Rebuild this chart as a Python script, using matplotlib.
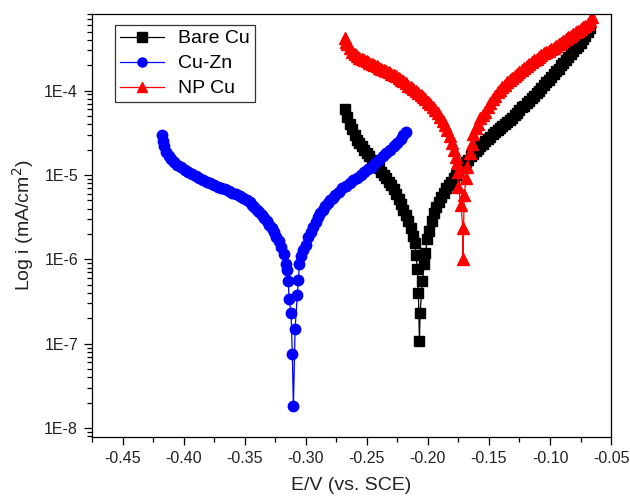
import numpy as np
import matplotlib.pyplot as plt
from matplotlib.ticker import MultipleLocator, LogLocator, FuncFormatter, NullFormatter

plt.rcParams['font.family'] = ['Liberation Sans', 'DejaVu Sans']

# Bare Cu
bare_E = [-0.268, -0.266, -0.264, -0.262, -0.260, -0.258, -0.256, -0.254, -0.252, -0.250,
          -0.248, -0.246, -0.244, -0.242, -0.240, -0.238, -0.236, -0.234, -0.232, -0.230,
          -0.228, -0.226, -0.224, -0.222, -0.220, -0.218, -0.216, -0.214, -0.212, -0.2105,
          -0.2096, -0.2086, -0.2078, -0.2069, -0.2064, -0.2045, -0.2028, -0.2020, -0.2005, -0.199,
          -0.197, -0.195, -0.193, -0.191, -0.189, -0.187, -0.185, -0.183, -0.181, -0.179,
          -0.177, -0.175, -0.173, -0.171, -0.169, -0.167, -0.165, -0.163, -0.161, -0.159,
          -0.157, -0.155, -0.153, -0.151, -0.149, -0.147, -0.145, -0.143, -0.141, -0.139,
          -0.137, -0.135, -0.133, -0.131, -0.129, -0.127, -0.125, -0.123, -0.121, -0.119,
          -0.117, -0.115, -0.113, -0.111, -0.109, -0.107, -0.105, -0.103, -0.101, -0.099,
          -0.097, -0.095, -0.093, -0.091, -0.089, -0.087, -0.085, -0.083, -0.081, -0.079,
          -0.077, -0.075, -0.073, -0.071, -0.069, -0.067]
bare_logi = [-4.22, -4.31, -4.39, -4.46, -4.53, -4.58, -4.62, -4.66, -4.70, -4.74,
             -4.78, -4.82, -4.85, -4.89, -4.92, -4.96, -5.00, -5.04, -5.08, -5.12,
             -5.17, -5.22, -5.28, -5.34, -5.41, -5.48, -5.55, -5.63, -5.72, -5.81,
             -5.95, -6.12, -6.40, -6.97, -6.64, -6.26, -6.05, -5.93, -5.76, -5.66,
             -5.54, -5.45, -5.38, -5.32, -5.26, -5.21, -5.16, -5.12, -5.08, -5.04,
             -5.00, -4.96, -4.92, -4.89, -4.85, -4.82, -4.78, -4.75, -4.72, -4.69,
             -4.66, -4.63, -4.60, -4.57, -4.545, -4.52, -4.49, -4.47, -4.44, -4.42,
             -4.40, -4.37, -4.35, -4.32, -4.29, -4.26, -4.23, -4.20, -4.18, -4.15,
             -4.12, -4.09, -4.06, -4.03, -4.00, -3.97, -3.93, -3.90, -3.87, -3.84,
             -3.80, -3.77, -3.74, -3.70, -3.67, -3.64, -3.60, -3.57, -3.53, -3.50,
             -3.47, -3.43, -3.39, -3.35, -3.31, -3.26]

# Cu-Zn
cuzn_E = [-0.418, -0.417, -0.416, -0.414, -0.412, -0.410, -0.408, -0.405, -0.402, -0.399,
          -0.396, -0.393, -0.390, -0.387, -0.384, -0.381, -0.378, -0.375, -0.372, -0.369,
          -0.366, -0.363, -0.360, -0.357, -0.354, -0.351, -0.348, -0.346, -0.344, -0.342,
          -0.340, -0.338, -0.336, -0.334, -0.332, -0.330, -0.328, -0.326, -0.324, -0.322,
          -0.320, -0.318, -0.3164, -0.3155, -0.3142, -0.3137, -0.3120, -0.3110, -0.3101, -0.3087,
          -0.3069, -0.3060, -0.3052, -0.3040, -0.3019, -0.300, -0.298, -0.296, -0.294, -0.292,
          -0.290, -0.288, -0.286, -0.284, -0.282, -0.280, -0.278, -0.276, -0.273, -0.270,
          -0.267, -0.264, -0.261, -0.258, -0.255, -0.252, -0.249, -0.246, -0.243, -0.240,
          -0.237, -0.234, -0.231, -0.228, -0.225, -0.222, -0.220, -0.218]
cuzn_logi = [-4.53, -4.60, -4.66, -4.73, -4.77, -4.81, -4.845, -4.88, -4.91, -4.94,
             -4.97, -4.99, -5.01, -5.04, -5.06, -5.08, -5.10, -5.12, -5.14, -5.15,
             -5.17, -5.19, -5.21, -5.23, -5.25, -5.27, -5.30, -5.32, -5.35, -5.38,
             -5.41, -5.44, -5.48, -5.51, -5.55, -5.59, -5.63, -5.68, -5.73, -5.78,
             -5.85, -5.94, -6.05, -6.13, -6.26, -6.47, -6.63, -7.12, -7.74, -6.82,
             -6.42, -6.24, -6.05, -5.96, -5.89, -5.83, -5.74, -5.68, -5.62, -5.56,
             -5.50, -5.45, -5.41, -5.37, -5.33, -5.30, -5.27, -5.24, -5.20, -5.16,
             -5.13, -5.09, -5.06, -5.03, -5.00, -4.96, -4.93, -4.90, -4.86, -4.82,
             -4.78, -4.74, -4.70, -4.66, -4.62, -4.57, -4.53, -4.49]

# NP Cu
npcu_E = [-0.268, -0.267, -0.266, -0.264, -0.262, -0.260, -0.258, -0.256, -0.254, -0.252,
          -0.250, -0.248, -0.246, -0.244, -0.242, -0.240, -0.238, -0.236, -0.234, -0.232,
          -0.230, -0.228, -0.226, -0.224, -0.222, -0.220, -0.218, -0.216, -0.214, -0.212,
          -0.210, -0.208, -0.206, -0.204, -0.202, -0.200, -0.198, -0.196, -0.194, -0.192,
          -0.190, -0.188, -0.186, -0.184, -0.182, -0.180, -0.1785, -0.1770, -0.1763, -0.1755,
          -0.1750, -0.1730, -0.1714, -0.1712, -0.1703, -0.1687, -0.1681, -0.1654, -0.1640, -0.1627,
          -0.161, -0.159, -0.157, -0.155, -0.153, -0.151, -0.149, -0.147, -0.145, -0.143,
          -0.141, -0.139, -0.137, -0.135, -0.133, -0.131, -0.129, -0.127, -0.125, -0.123,
          -0.121, -0.119, -0.117, -0.115, -0.113, -0.111, -0.109, -0.107, -0.105, -0.103,
          -0.101, -0.099, -0.097, -0.095, -0.093, -0.091, -0.089, -0.087, -0.085, -0.083,
          -0.081, -0.079, -0.077, -0.075, -0.073, -0.071, -0.069, -0.067, -0.0655]
npcu_logi = [-3.38, -3.42, -3.45, -3.50, -3.54, -3.57, -3.59, -3.61, -3.62, -3.64,
             -3.65, -3.67, -3.68, -3.70, -3.71, -3.73, -3.74, -3.76, -3.77, -3.78,
             -3.80, -3.82, -3.83, -3.85, -3.87, -3.89, -3.91, -3.94, -3.96, -3.98,
             -4.00, -4.03, -4.05, -4.08, -4.10, -4.13, -4.16, -4.19, -4.23, -4.27,
             -4.31, -4.36, -4.41, -4.47, -4.54, -4.62, -4.70, -4.79, -4.86, -4.96,
             -5.14, -5.35, -5.63, -5.99, -5.24, -5.04, -4.90, -4.74, -4.63, -4.51,
             -4.44, -4.39, -4.33, -4.29, -4.25, -4.20, -4.15, -4.10, -4.06, -4.02,
             -3.99, -3.96, -3.93, -3.90, -3.87, -3.85, -3.83, -3.80, -3.78, -3.76,
             -3.73, -3.71, -3.69, -3.66, -3.64, -3.62, -3.60, -3.58, -3.56, -3.54,
             -3.53, -3.51, -3.49, -3.47, -3.45, -3.43, -3.41, -3.39, -3.37, -3.35,
             -3.33, -3.31, -3.29, -3.27, -3.25, -3.23, -3.21, -3.17, -3.13]

fig = plt.figure(figsize=(6.3, 4.98), dpi=100)
ax = fig.add_axes([0.146, 0.122, 0.824, 0.850])

ax.plot(bare_E, 10 ** np.array(bare_logi), color='black', marker='s', ms=7,
        lw=0.9, label='Bare Cu')
ax.plot(cuzn_E, 10 ** np.array(cuzn_logi), color='blue', marker='o', ms=7.5,
        lw=0.9, label='Cu-Zn')
ax.plot(npcu_E, 10 ** np.array(npcu_logi), color='red', marker='^', ms=8,
        lw=0.9, label='NP Cu')

ax.set_yscale('log')
ax.set_xlim(-0.475, -0.05)
ax.set_ylim(7.8e-9, 8.1e-4)

ax.xaxis.set_major_locator(MultipleLocator(0.05))
ax.xaxis.set_minor_locator(MultipleLocator(0.025))
ax.xaxis.set_major_formatter(FuncFormatter(lambda v, p: '%.2f' % v))
ax.yaxis.set_major_locator(LogLocator(base=10, numticks=12))
ax.yaxis.set_minor_locator(LogLocator(base=10, subs=np.arange(2, 10), numticks=12))
ax.yaxis.set_major_formatter(FuncFormatter(lambda v, p: '1E%d' % round(np.log10(v))))
ax.yaxis.set_minor_formatter(NullFormatter())

ax.tick_params(which='both', direction='out', top=False, right=False,
               labelsize=11.5, colors='black', labelcolor='#222222', width=0.9)
ax.tick_params(which='major', length=6, pad=4)
ax.tick_params(which='minor', length=3.5)
for s in ax.spines.values():
    s.set_linewidth(0.9)

ax.set_xlabel('E/V (vs. SCE)', fontsize=14, labelpad=8, color='#222222')
ax.set_ylabel('Log i (mA/cm$^2$)', fontsize=14, labelpad=6, color='#222222')

leg = ax.legend(loc='upper left', bbox_to_anchor=(0.044, 0.974), borderaxespad=0,
                fontsize=14, numpoints=1, handlelength=2.3, handletextpad=0.7,
                labelspacing=0.38, fancybox=False, framealpha=1, borderpad=0.25)
leg.get_frame().set_edgecolor('#333333')
leg.get_frame().set_linewidth(0.9)
for h in leg.legend_handles:
    h.set_markersize(6.5)

plt.savefig('out.png', dpi=100)
